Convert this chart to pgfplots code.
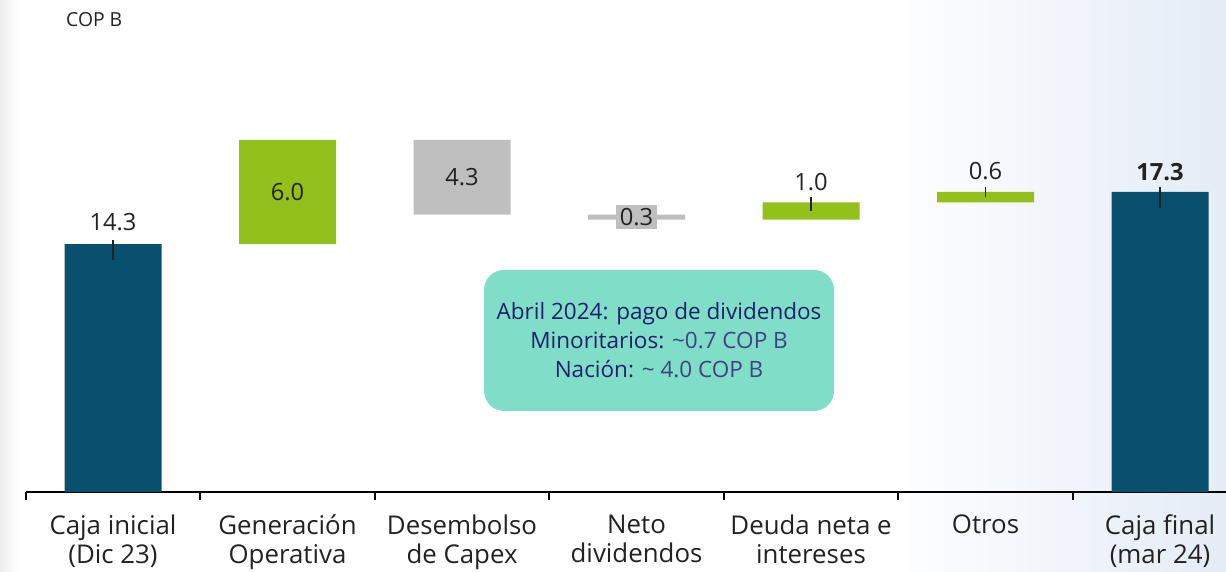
\documentclass[border=0pt]{standalone}
\usepackage{fontspec}
\setmainfont{Open Sans}
\usepackage{pgfplots}
\pgfplotsset{compat=1.18}
\definecolor{navy}{HTML}{08506E}
\definecolor{lime}{HTML}{93C01A}
\definecolor{grey}{HTML}{BFBFBF}
\definecolor{mint}{HTML}{80DEC8}
\definecolor{indigo}{HTML}{1F1F6B}
\definecolor{ink}{HTML}{222222}
\definecolor{haze}{HTML}{E4ECF6}

% waterfall: invisible base + coloured pieces
\pgfplotstableread{
x base total up down
0 0    14.3 0   0
1 14.3 0    6.0 0
2 16.0 0    0   4.3
3 15.7 0    0   0.3
4 15.7 0    1.0 0
5 16.7 0    0.6 0
6 0    17.3 0   0
}\flows

\pgfplotsset{
  frame/.style={
    at={(0.515cm,1.6cm)}, anchor=south west, scale only axis,
    width=24.005cm, height=7.838cm,
    xmin=-0.5, xmax=6.378, ymin=0, ymax=22.6,
    clip=false,
  }
}

\begin{document}
\begin{tikzpicture}
\useasboundingbox (0,0) rectangle (24.52,11.44);
\shade[left color=white, right color=haze] (17.6,0) rectangle (24.52,11.44);
\shade[left color=black!7, right color=white] (0,0) rectangle (0.35,11.44);
\node[anchor=west, font=\fontsize{11}{13}\selectfont, text=ink] at (1.2,11.04) {COP B};

\begin{axis}[frame,
  ybar stacked, bar width=1.94cm,
  axis x line*=bottom, hide y axis,
  x axis line style={-, black, line width=1pt},
  xtick={0,...,6},
  xticklabels={{Caja inicial\\(Dic 23)},{Generación\\Operativa},{Desembolso\\de Capex},{Neto\\dividendos},{Deuda neta e\\intereses},{Otros},{Caja final\\(mar 24)}},
  minor xtick={-0.5,0.5,...,5.5},
  major tick length=0pt, minor tick length=0.16cm,
  xtick align=outside,
  every minor tick/.style={black, line width=1pt},
  xticklabel style={align=center, text=ink, yshift=-0.34cm, font=\fontsize{14.7}{16.5}\selectfont},
]
\addplot[fill=none, draw=none] table[x=x, y=base] {\flows};
\addplot[fill=navy, draw=none] table[x=x, y=total] {\flows};
\addplot[fill=lime, draw=none] table[x=x, y=up] {\flows};
\addplot[fill=grey, draw=none] table[x=x, y=down] {\flows};
\end{axis}

\begin{axis}[frame, hide axis]
\addplot[draw=none, no markers,
  error bars/.cd, y dir=both, y explicit, error mark=none,
  error bar style={draw=ink, solid, line width=0.8pt}]
  coordinates {(0,13.96) +- (0,0.58) (4,16.61) +- (0,0.40) (5,17.30) +- (0,0.29) (6,16.98) +- (0,0.61)};
\begin{scope}[every node/.style={font=\fontsize{13.5}{15}\selectfont, text=ink}]
\node at (axis cs:0,15.57) {14.3};
\node at (axis cs:1,17.3) {6.0};
\node at (axis cs:2,18.15) {4.3};
\node[fill=grey, inner sep=2pt] at (axis cs:3,15.85) {0.3};
\node at (axis cs:4,17.85) {1.0};
\node at (axis cs:5,18.5) {0.6};
\node[font=\fontsize{13.5}{15}\selectfont\bfseries] at (axis cs:6,18.45) {17.3};
\end{scope}
\node[fill=mint, rounded corners=0.4cm, minimum width=7cm, minimum height=2.82cm,
  align=center, text=indigo, font=\fontsize{12.8}{16.5}\selectfont]
  at (axis cs:3.129,8.74)
  {Abril 2024: pago de dividendos\\Minoritarios: {\color{indigo!85}\char`~0.7 COP B}\\Nación: {\color{indigo!85}\char`~\ 4.0 COP B}};
\end{axis}
\end{tikzpicture}
\end{document}
